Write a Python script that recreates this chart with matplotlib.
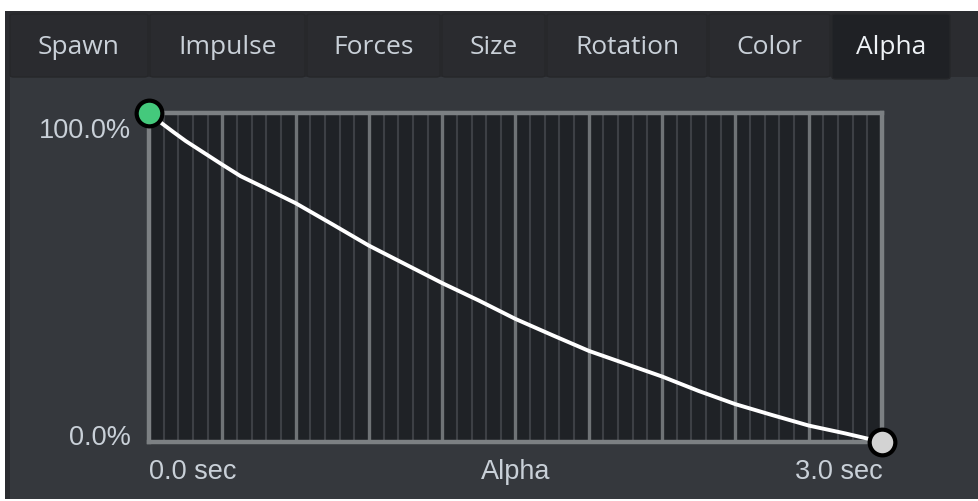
import matplotlib

matplotlib.use("Agg")
import matplotlib.pyplot as plt
from matplotlib.patches import Rectangle, FancyBboxPatch

W, H = 979, 502

# curve keyframes (time in sec, alpha 0..1)
times = [0.0, 0.05, 0.1, 0.15, 0.225, 0.3, 0.375, 0.45, 0.6, 0.75, 0.9, 1.05,
         1.2, 1.35, 1.5, 1.65, 1.8, 1.95, 2.1, 2.25, 2.4, 2.55, 2.7, 2.85, 3.0]
alpha = [1.0, 0.97, 0.942, 0.915, 0.879, 0.843, 0.808, 0.781, 0.726, 0.662, 0.597,
         0.54, 0.483, 0.43, 0.374, 0.325, 0.277, 0.238, 0.199, 0.155, 0.115,
         0.082, 0.05, 0.026, 0.0]

tabs = ["Spawn", "Impulse", "Forces", "Size", "Rotation", "Color", "Alpha"]
tab_edges = [10, 150, 307, 442, 547, 709, 832, 952]
active_tab = "Alpha"

y_labels = ["0.0%", "100.0%"]
x_labels = ["0.0 sec", "3.0 sec"]
x_title = "Alpha"

TEXT = "#c9d0d8"
PANEL = "#35383d"


def fx(px):
    return px / W


def fy(py):
    return 1 - py / H


fig = plt.figure(figsize=(W / 100, H / 100), dpi=100)
fig.patch.set_facecolor("white")

# panel body + tab strip
fig.add_artist(Rectangle((fx(5), fy(500)), fx(974), (498 - 12) / H,
                         transform=fig.transFigure, facecolor=PANEL, lw=0))
fig.add_artist(Rectangle((fx(5), fy(78)), fx(974), 66 / H,
                         transform=fig.transFigure, facecolor="#2b2c30", lw=0))
fig.add_artist(Rectangle((fx(5), fy(500)), fx(5), (500 - 12) / H,
                         transform=fig.transFigure, facecolor="#2b2c30", lw=0))

for i, name in enumerate(tabs):
    x0, x1 = tab_edges[i], tab_edges[i + 1] - 2
    on = name == active_tab
    bottom = 80 if on else 78
    fig.add_artist(FancyBboxPatch(
        (fx(x0), fy(bottom)), fx(x1 - x0), (bottom - 15) / H,
        boxstyle="round,pad=0,rounding_size=0.004",
        transform=fig.transFigure,
        facecolor="#1f2125" if on else "#2a2b2f",
        edgecolor="#26272a", lw=1))
    fig.text(fx((x0 + x1) / 2), fy(47), name, ha="center", va="center",
             fontsize=19, family="Open Sans",
             color="#eef2f6" if on else TEXT)

# curve area
ax = fig.add_axes([fx(149), fy(443), fx(882 - 149), (443 - 114) / H])
ax.set_zorder(5)
ax.set_facecolor("#1f2226")
ax.set_xlim(0, 3)
ax.set_ylim(0, 1)

for k in range(1, 50):
    t = k * 0.06
    major = k % 5 == 0
    ax.axvline(t, color="#6f7376" if major else "#3d4045",
               lw=2.4 if major else 1.5, zorder=1)

for side in ["left", "right", "top", "bottom"]:
    ax.spines[side].set_color("#7c8083")
    ax.spines[side].set_linewidth(3.2)
ax.set_xticks([])
ax.set_yticks([])

ax.plot(times, alpha, color="white", lw=2.8, zorder=3, clip_on=False,
        solid_joinstyle="round")
ax.plot(times[0], alpha[0], "o", ms=18.5, mfc="#44c97c", mec="black",
        mew=3, zorder=5, clip_on=False)
ax.plot(times[-1], alpha[-1], "o", ms=18.5, mfc="#d3d3d3", mec="black",
        mew=3, zorder=5, clip_on=False)

label_font = dict(family="Liberation Sans", fontsize=19.5, color=TEXT)
fig.text(fx(131), fy(131), y_labels[1], ha="right", va="center", **label_font)
fig.text(fx(131), fy(438), y_labels[0], ha="right", va="center", **label_font)
fig.text(fx(149), fy(472), x_labels[0], ha="left", va="center", **label_font)
fig.text(fx(883), fy(472), x_labels[1], ha="right", va="center", **label_font)
fig.text(fx(516), fy(472), x_title, ha="center", va="center", **label_font)

fig.savefig("out.png", dpi=100, facecolor=fig.get_facecolor())
